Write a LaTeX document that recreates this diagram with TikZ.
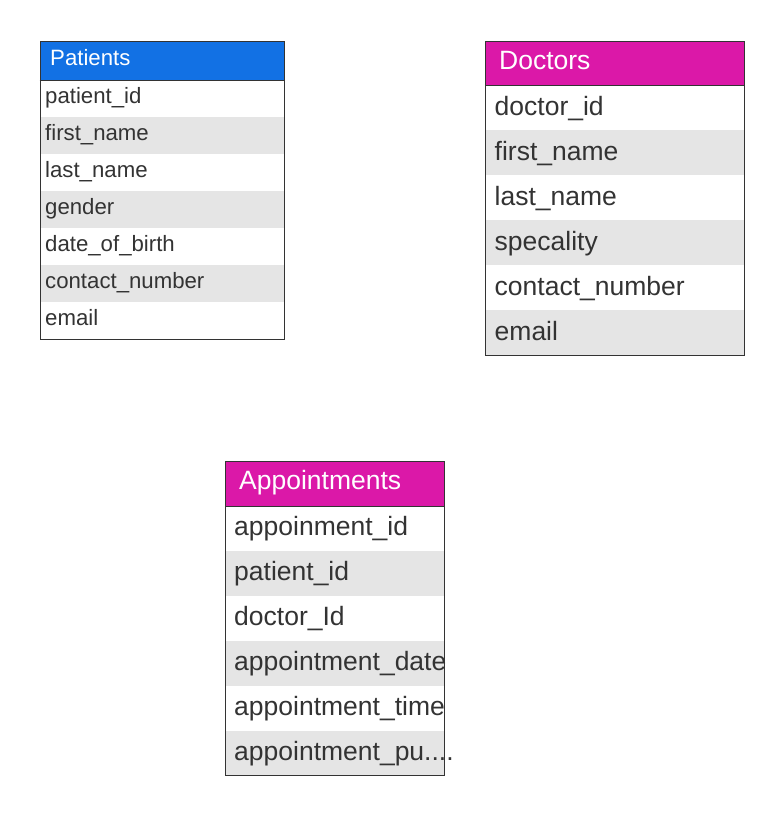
\documentclass[tikz,border=0pt]{standalone}
\usepackage{fontspec}
\setmainfont{Liberation Sans}
\definecolor{hdrblue}{HTML}{1271E4}
\definecolor{hdrpink}{HTML}{DB18A8}
\definecolor{rowgray}{HTML}{E5E5E5}
\definecolor{txtgray}{HTML}{333333}
\definecolor{edgegray}{HTML}{333333}
\tikzset{
  smalltxt/.style={anchor=base west, inner sep=0pt, text=txtgray, font=\fontsize{22.2}{26}\selectfont},
  bigtxt/.style={anchor=base west, inner sep=0pt, text=txtgray, font=\fontsize{26.5}{30}\selectfont},
  smallhdr/.style={smalltxt, text=white},
  bighdr/.style={bigtxt, text=white},
  tableframe/.style={draw=edgegray, line width=1pt},
}
\begin{document}
\begin{tikzpicture}[x=1pt,y=-1pt]
\useasboundingbox (0,0) rectangle (784,815);
\fill[white] (0,0) rectangle (784,815);

% ---------- Patients ----------
\fill[hdrblue] (39.5,40.5) rectangle (284,80);
\fill[rowgray] (39.5,117) rectangle (284,154);
\fill[rowgray] (39.5,191) rectangle (284,228);
\fill[rowgray] (39.5,265) rectangle (284,302);
\draw[edgegray, line width=0.8pt] (39.5,80) -- (284,80);
\node[tableframe, rectangle, minimum width=244.5pt, minimum height=298.5pt, anchor=north west, inner sep=0pt] (patients) at (39.5,40.5) {};
\node[smallhdr] (p0) at (50,65) {Patients};
\node[smalltxt] (p1) at (45,103.5) {patient\_id};
\node[smalltxt] (p2) at (45,140.5) {first\_name};
\node[smalltxt] (p3) at (45,177.5) {last\_name};
\node[smalltxt] (p4) at (45,214.5) {gender};
\node[smalltxt] (p5) at (45,251.5) {date\_of\_birth};
\node[smalltxt] (p6) at (45,288.5) {contact\_number};
\node[smalltxt] (p7) at (45,325.5) {email};

% ---------- Doctors ----------
\fill[hdrpink] (485,41) rectangle (744,85);
\fill[rowgray] (485,130) rectangle (744,175);
\fill[rowgray] (485,220) rectangle (744,265);
\fill[rowgray] (485,310) rectangle (744,355);
\draw[edgegray, line width=0.8pt] (485,85) -- (744,85);
\node[tableframe, rectangle, minimum width=259pt, minimum height=314pt, anchor=north west, inner sep=0pt] (doctors) at (485,41) {};
\node[bighdr] (d0) at (499,69.8) {Doctors};
\node[bigtxt] (d1) at (494.5,115) {doctor\_id};
\node[bigtxt] (d2) at (494.5,160) {first\_name};
\node[bigtxt] (d3) at (494.5,205) {last\_name};
\node[bigtxt] (d4) at (494.5,250) {specality};
\node[bigtxt] (d5) at (494.5,295) {contact\_number};
\node[bigtxt] (d6) at (494.5,340) {email};

% ---------- Appointments ----------
\fill[hdrpink] (225,461) rectangle (444,506);
\fill[rowgray] (225,551) rectangle (444,596);
\fill[rowgray] (225,641) rectangle (444,686);
\fill[rowgray] (225,731) rectangle (444,775);
\draw[edgegray, line width=0.8pt] (225,506) -- (444,506);
\node[tableframe, rectangle, minimum width=219pt, minimum height=314pt, anchor=north west, inner sep=0pt] (appointments) at (225,461) {};
\node[bighdr] (a0) at (239,489.8) {Appointments};
\node[bigtxt] (a1) at (234,535) {appoinment\_id};
\node[bigtxt] (a2) at (234,580) {patient\_id};
\node[bigtxt] (a3) at (234,625) {doctor\_Id};
\node[bigtxt] (a4) at (234,670) {appointment\_date};
\node[bigtxt] (a5) at (234,715) {appointment\_time};
\node[bigtxt] (a6) at (234,760) {appointment\_pu....};
\end{tikzpicture}
\end{document}
